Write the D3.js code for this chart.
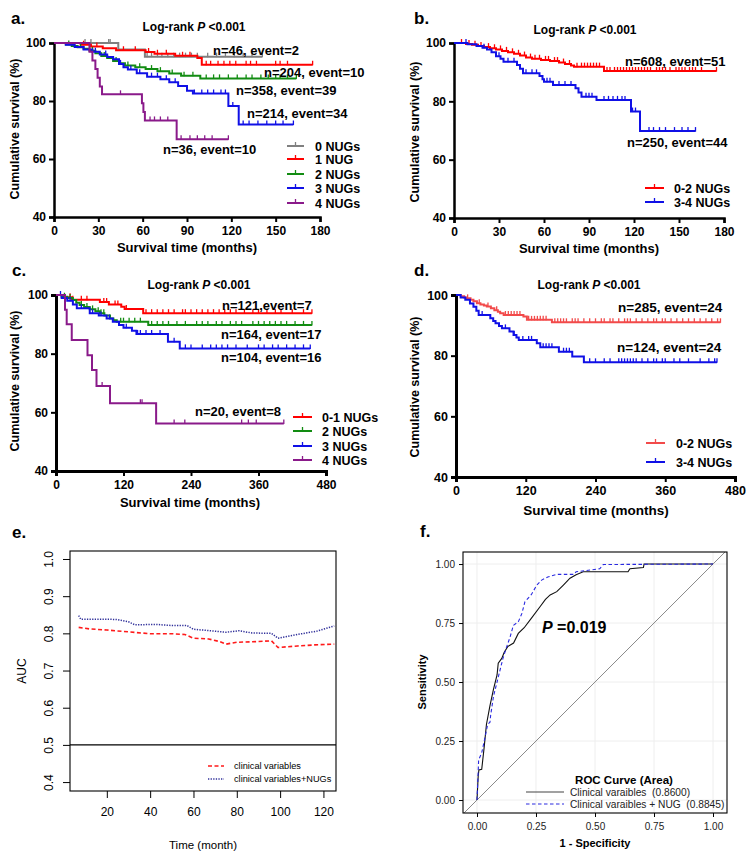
<!DOCTYPE html>
<html><head><meta charset="utf-8">
<script src="https://cdn.jsdelivr.net/npm/d3@7"></script>
<style>body{margin:0;background:#fff}</style>
</head><body>
<svg id="chart" width="754" height="863"></svg>
<script>
// ---------------- DATA ----------------
// Kaplan-Meier step curves: [time (months), survival (%)]
const kmYTicks = [40, 60, 80, 100];
const ticksAB = [0, 30, 60, 90, 120, 150, 180];
const ticksCD = [0, 120, 240, 360, 480];

// Panel a
const aGray = [[0,100],[43.5,97.8],[61.5,95.3],[141,95.3]];
const aRed = [[0,100],[18,99.4],[25,98.8],[33,98.2],[42,97.5],[62,96.9],[68,96.3],[82,95.6],[97,94.8],[100,92.5],[175,92.5]];
const aGreen = [[0,100],[8,99.5],[12,99.0],[16,98.5],[20,98.0],[24,97.3],[28,96.5],[32,95.5],[36,94.8],[40,93.8],[44,93.0],[48,92.2],[55,91.6],[62,91.0],[70,90.3],[78,89.5],[86,88.7],[99,87.8],[164,87.8]];
const aBlue = [[0,100],[8,99.4],[14,98.6],[20,97.8],[26,97.0],[31,96.0],[36,95.2],[40,94.4],[44,92.8],[47,91.6],[50,90.9],[56,89.6],[63,88.4],[72,87.5],[78,86.5],[84,85.2],[90,83.5],[94,82.6],[118,78.3],[125,71.9],[162,71.9]];
const aPurple = [[0,100],[24,97],[26,94],[28,91],[29.5,88],[31,85],[32.5,82.3],[59.5,79.2],[60.5,76.2],[61.5,73.3],[83,66.8],[118,66.8]];
const aGrayC = [21,25,37,38,63,66,70,73,77,81,85,89,93,97,104,110,116,122,128,134,141];
const aRedC = [20,29,47,55,64,70,76,87,92,103,106,111,115,119,123,130,133,137,150,153,158,175];
const aGreenC = [10,18,26,34,42,50,58,66,72,80,88,94,103,108,112,118,124,130,134,140,145,150,153,158,164];
const aBlueC = [28,35,45,52,58,66,70,76,82,95,100,104,108,113,116,121,128,132,138,144,150,155,162];
const aPurpleC = [45,65,68,72,77,86,92,97,102,107,118];

// Panel b
const bRed = [[0,100],[8,99.7],[12,99.4],[16,99.0],[20,98.6],[24,98.2],[28,97.8],[32,97.3],[36,96.8],[40,96.3],[44,95.7],[48,95.0],[52,94.6],[58,94.2],[64,93.8],[70,93.3],[74,92.8],[78,92.3],[80,91.9],[98,91.9],[100,90.4],[175,90.4]];
const bBlue = [[0,100],[9,99.6],[15,99.0],[19,98.4],[22,97.8],[25,96.8],[28,95.5],[31,94.6],[33,93.6],[42,92.5],[44,91.2],[46,89.6],[57,88.7],[59,87.6],[60,86.7],[66,85.6],[81,84.5],[83,83.0],[85,81.6],[95,80.5],[117,80.5],[118,76.5],[124,69.8],[161,69.8]];
const bRedC = [5,10,14,18,23,27,31,35,39,43,47,51,54,57,61,63,67,69,73,77,82,85,87,89,91,93,95,97,102,104,107,109,111,113,115,117,119,121,123,125,127,129,131,135,137,139,141,144,148,150,152,154,157,159,161,165,175];
const bBlueC = [8,20,30,36,40,48,52,55,62,64,70,74,78,88,90,92,100,103,106,109,112,114,119,121,130,133,137,141,147,152,156,161];

// Panel c
const cRed = [[0,100],[16,99.2],[28,98.4],[78,97.6],[94,96.8],[116,96.0],[122,95.2],[155,93.8],[455,93.8]];
const cGreen = [[0,100],[10,99.4],[20,99.0],[30,98.3],[36,97.4],[42,96.6],[50,95.9],[60,95.1],[70,94.5],[78,93.8],[86,93.0],[96,92.0],[102,91.4],[108,90.9],[164,89.8],[455,89.8]];
const cBlue = [[0,100],[10,99.0],[20,98.0],[30,96.8],[37,95.5],[60,93.8],[76,93.0],[90,92.0],[101,90.9],[112,89.8],[120,88.8],[135,87.8],[143,86.7],[199,84.1],[220,81.8],[452,81.8]];
const cPurple = [[0,100],[16,95.0],[19,90.0],[28,84.7],[56,79.5],[64,74.4],[72,69.0],[96,63.1],[178,56.2],[405,56.2]];
const cRedC = [25,30,45,55,85,90,105,110,125,160,170,180,190,200,210,225,230,240,250,260,270,280,290,300,310,320,335,350,360,375,390,400,420,440,455];
const cGreenC = [15,25,45,55,65,75,80,85,115,120,130,140,150,170,180,190,200,215,230,250,260,270,285,295,310,320,330,350,360,370,380,390,400,410,425,440,455];
const cBlueC = [8,25,45,65,80,95,125,145,150,160,170,185,210,230,240,260,275,285,295,305,320,340,360,370,385,395,410,425,440,452];
const cPurpleC = [82,150,153,210,229,330,342,356,405];

// Panel d
const dRed = [[0,100],[8,99.6],[14,99.2],[19,98.9],[25,98.4],[30,97.9],[36,97.3],[42,96.9],[48,96.5],[53,96.2],[60,95.6],[66,95.0],[72,94.5],[76,94.0],[82,93.4],[116,92.9],[122,91.8],[157,91.8],[165,91.0],[455,91.0]];
const dBlue = [[0,100],[8,99.2],[16,98.4],[24,97.2],[30,96.1],[35,94.8],[39,93.4],[59,92.3],[64,91.4],[68,90.7],[74,89.8],[79,89.0],[92,88.0],[99,86.8],[104,86.0],[108,85.2],[139,84.1],[145,82.8],[177,81.3],[200,79.7],[220,77.8],[449,77.8]];
const dRedC = [20,40,55,70,85,90,95,100,105,110,125,130,135,140,145,150,155,170,175,180,185,190,200,205,210,220,230,240,250,255,265,270,280,290,295,300,310,320,330,340,345,355,360,370,380,390,400,410,420,430,440,450,455];
const dBlueC = [45,85,100,115,125,130,150,155,160,165,185,190,195,230,240,255,265,280,285,290,295,300,305,310,320,330,340,345,355,360,375,385,400,420,435,445,449];

// Panel e: time-dependent AUC [month, AUC]
const eXTicks = [20, 40, 60, 80, 100, 120];
const eYTicks = [0.4, 0.5, 0.6, 0.7, 0.8, 0.9, 1.0];
const eClinical = [[7,0.816],[12,0.812],[20,0.809],[30,0.804],[40,0.799],[50,0.799],[56,0.797],[60,0.787],[67,0.785],[72,0.778],[75,0.771],[80,0.776],[90,0.778],[96,0.780],[99,0.762],[108,0.766],[116,0.769],[125,0.771]];
const eClinicalNUG = [[7,0.848],[8,0.838],[21,0.838],[25,0.837],[30,0.831],[33,0.823],[43,0.824],[50,0.821],[57,0.821],[60,0.811],[68,0.807],[75,0.803],[81,0.807],[87,0.801],[96,0.800],[99,0.787],[108,0.797],[117,0.806],[125,0.820]];

// Panel f: ROC curves [1-specificity, sensitivity]
const fTicks = [0, 0.25, 0.5, 0.75, 1.0];
const rocClinical = [[0,0],[0.005,0.10],[0.008,0.127],[0.02,0.13],[0.03,0.22],[0.04,0.32],[0.055,0.40],[0.07,0.47],[0.085,0.53],[0.09,0.58],[0.105,0.60],[0.115,0.625],[0.13,0.65],[0.155,0.665],[0.175,0.706],[0.2,0.73],[0.23,0.77],[0.267,0.819],[0.29,0.85],[0.31,0.869],[0.338,0.883],[0.365,0.91],[0.394,0.94],[0.42,0.955],[0.45,0.967],[0.64,0.967],[0.648,0.98],[0.705,0.985],[0.708,1.0],[1.0,1.0]];
const rocClinicalNUG = [[0,0],[0.005,0.12],[0.007,0.17],[0.02,0.2],[0.035,0.27],[0.045,0.32],[0.055,0.33],[0.058,0.36],[0.07,0.44],[0.085,0.5],[0.095,0.54],[0.11,0.6],[0.126,0.65],[0.14,0.69],[0.154,0.74],[0.175,0.755],[0.19,0.79],[0.203,0.84],[0.23,0.87],[0.253,0.91],[0.274,0.932],[0.3,0.945],[0.338,0.956],[0.41,0.956],[0.42,0.967],[0.52,0.98],[0.535,0.998],[1.0,1.0]];

// ---------------- DRAWING ----------------
const FONT = "'Liberation Sans', Arial, Helvetica, sans-serif";
const svg = d3.select('#chart').style('font-family', FONT);
svg.append('rect').attr('width', 754).attr('height', 863).attr('fill', '#fff');

function survAt(series, t) {
  let s = series[0][1];
  for (const p of series) if (p[0] <= t) s = p[1];
  return s;
}

function logRankTitle(g, x, y) {
  const t = g.append('text').attr('x', x).attr('y', y).attr('text-anchor', 'middle')
    .attr('font-size', 12).attr('font-weight', 'bold');
  t.append('tspan').text('Log-rank ');
  t.append('tspan').attr('font-style', 'italic').text('P');
  t.append('tspan').text(' <0.001');
}

function drawKM(o) {
  const g = svg.append('g');
  const x = d3.scaleLinear().domain([0, o.xmax]).range([o.x0, o.x1]);
  const y = d3.scaleLinear().domain([40, 100]).range([o.y0, o.y1]);

  g.append('text').attr('x', o.lab[0]).attr('y', o.lab[1]).attr('font-size', 17)
    .attr('font-weight', 'bold').text(o.label);
  logRankTitle(g, o.title[0], o.title[1]);

  const ax = g.append('g').attr('transform', `translate(0,${o.y0})`)
    .call(d3.axisBottom(x).tickValues(o.xticks).tickSizeOuter(0).tickSize(5).tickPadding(4));
  const ay = g.append('g').attr('transform', `translate(${o.x0},0)`)
    .call(d3.axisLeft(y).tickValues(kmYTicks).tickSizeOuter(0).tickSize(5).tickPadding(3));
  [ax, ay].forEach(a => {
    a.select('.domain').attr('stroke-width', o.axw || 2.5).attr('stroke', '#000');
    a.selectAll('.tick line').attr('stroke-width', 2).attr('stroke', '#000');
    a.selectAll('.tick text').attr('font-size', o.tickSize || 12).attr('font-weight', 'bold')
      .attr('font-family', FONT).attr('fill', '#000');
  });
  g.append('text').attr('x', o.xlab[0]).attr('y', o.xlab[1]).attr('text-anchor', 'middle')
    .attr('font-size', o.xlabSize || 13).attr('font-weight', 'bold').text('Survival time (months)');
  g.append('text').attr('transform', `translate(${o.ylab[0]},${o.ylab[1]}) rotate(-90)`)
    .attr('text-anchor', 'middle').attr('dy', '0.35em')
    .attr('font-size', 12.5).attr('font-weight', 'bold').text('Cumulative survival (%)');

  const line = d3.line().x(d => x(d[0])).y(d => y(d[1])).curve(d3.curveStepAfter);
  o.series.forEach(s => {
    g.append('path').attr('d', line(s.data)).attr('fill', 'none')
      .attr('stroke', s.color).attr('stroke-width', 2);
    g.append('g').selectAll('line').data(s.cens).join('line')
      .attr('x1', t => x(t)).attr('x2', t => x(t))
      .attr('y1', t => y(survAt(s.data, t)) - 4)
      .attr('y2', t => y(survAt(s.data, t)) + 0.5)
      .attr('stroke', s.color).attr('stroke-width', 1.3);
  });

  // legend
  const L = o.legend;
  o.series.forEach((s, i) => {
    const ry = L.rows[i];
    g.append('line').attr('x1', L.x0).attr('x2', L.x1).attr('y1', ry).attr('y2', ry)
      .attr('stroke', s.color).attr('stroke-width', 2);
    const mx = (L.x0 + L.x1) / 2;
    g.append('line').attr('x1', mx).attr('x2', mx).attr('y1', ry - 4).attr('y2', ry)
      .attr('stroke', s.color).attr('stroke-width', 1.3);
    g.append('text').attr('x', L.tx).attr('y', ry + 4.5).attr('font-size', 12.5)
      .attr('font-weight', 'bold').text(s.name);
  });

  o.notes.forEach(n => {
    g.append('text').attr('x', n[1]).attr('y', n[2] + 4.5).attr('font-size', o.noteSize || 13)
      .attr('font-weight', 'bold').text(n[0]);
  });
}

const C = { gray: '#808080', red: '#ff0000', green: '#128c12', blue: '#1010e6', purple: '#8a1a8a', lred: '#f24a4a' };

drawKM({
  label: 'a.', lab: [11, 24], x0: 54, x1: 320, y0: 217, y1: 43, xmax: 180, xticks: ticksAB,
  title: [194, 31], xlab: [187, 252], ylab: [15, 129],
  series: [
    { data: aGray, cens: aGrayC, color: C.gray, name: '0 NUGs' },
    { data: aRed, cens: aRedC, color: C.red, name: '1 NUG' },
    { data: aGreen, cens: aGreenC, color: C.green, name: '2 NUGs' },
    { data: aBlue, cens: aBlueC, color: C.blue, name: '3 NUGs' },
    { data: aPurple, cens: aPurpleC, color: C.purple, name: '4 NUGs' }
  ],
  legend: { x0: 287, x1: 304, tx: 315, rows: [146, 159, 174, 188, 203] },
  notes: [['n=46, event=2', 213, 50], ['n=204, event=10', 264, 72], ['n=358, event=39', 236, 90],
          ['n=214, event=34', 247, 113], ['n=36, event=10', 163, 149]]
});

drawKM({
  label: 'b.', lab: [414, 24], x0: 454, x1: 724, y0: 218, y1: 43, xmax: 180, xticks: ticksAB,
  title: [585, 34], xlab: [589, 253], ylab: [415, 132],
  series: [
    { data: bRed, cens: bRedC, color: C.red, name: '0-2 NUGs' },
    { data: bBlue, cens: bBlueC, color: C.blue, name: '3-4 NUGs' }
  ],
  legend: { x0: 645, x1: 664, tx: 674, rows: [188, 202] },
  notes: [['n=608, event=51', 625, 61], ['n=250, event=44', 627, 142]]
});

drawKM({
  label: 'c.', lab: [12, 276], x0: 56, x1: 326, y0: 471, y1: 295, xmax: 480, xticks: ticksCD, axw: 3,
  title: [199, 289], xlab: [190, 507], ylab: [15, 381],
  series: [
    { data: cRed, cens: cRedC, color: C.red, name: '0-1 NUGs' },
    { data: cGreen, cens: cGreenC, color: C.green, name: '2 NUGs' },
    { data: cBlue, cens: cBlueC, color: C.blue, name: '3 NUGs' },
    { data: cPurple, cens: cPurpleC, color: C.purple, name: '4 NUGs' }
  ],
  legend: { x0: 293, x1: 312, tx: 322, rows: [417, 431, 446, 460] },
  notes: [['n=121,event=7', 222, 305], ['n=164, event=17', 221, 334], ['n=104, event=16', 221, 357],
          ['n=20, event=8', 195, 411]]
});

drawKM({
  label: 'd.', lab: [414, 276], x0: 456, x1: 735, y0: 477, y1: 295, xmax: 480, xticks: ticksCD, axw: 3,
  title: [589, 289], xlab: [596, 515], xlabSize: 13.5, ylab: [415, 387], noteSize: 13.5, tickSize: 12.5,
  series: [
    { data: dRed, cens: dRedC, color: C.lred, name: '0-2 NUGs' },
    { data: dBlue, cens: dBlueC, color: C.blue, name: '3-4 NUGs' }
  ],
  legend: { x0: 646, x1: 665, tx: 676, rows: [443, 462] },
  notes: [['n=285, event=24', 618, 307], ['n=124, event=24', 617, 347]]
});

// ---------- Panel e ----------
(function () {
  const g = svg.append('g');
  const x = d3.scaleLinear().domain([3, 125.8]).range([70, 336]);
  const y = d3.scaleLinear().domain([0.376, 1.0215]).range([791, 551]);
  g.append('text').attr('x', 12).attr('y', 538).attr('font-size', 17).attr('font-weight', 'bold').text('e.');

  const ax = g.append('g').attr('transform', 'translate(0,791)')
    .call(d3.axisBottom(x).tickValues(eXTicks).tickSizeOuter(0).tickSize(7).tickPadding(9));
  ax.select('.domain').remove();
  ax.selectAll('.tick text').attr('font-size', 12).attr('font-family', FONT).attr('fill', '#000');
  ax.selectAll('.tick line').attr('stroke', '#000');

  const ay = g.append('g').attr('transform', 'translate(70,0)')
    .call(d3.axisLeft(y).tickValues(eYTicks).tickFormat(d3.format('.1f')).tickSizeOuter(0).tickSize(7));
  ay.select('.domain').remove();
  ay.selectAll('.tick line').attr('stroke', '#000');
  ay.selectAll('.tick text').attr('font-size', 12).attr('font-family', FONT).attr('fill', '#000')
    .attr('x', 0).attr('dy', null).attr('y', -17.5).attr('text-anchor', 'middle')
    .attr('transform', 'rotate(-90)');

  g.append('rect').attr('x', 70).attr('y', 551).attr('width', 266).attr('height', 240)
    .attr('fill', 'none').attr('stroke', '#000').attr('stroke-width', 1.1);
  g.append('line').attr('x1', 70).attr('x2', 336).attr('y1', y(0.5)).attr('y2', y(0.5))
    .attr('stroke', '#000').attr('stroke-width', 1.2);

  const line = d3.line().x(d => x(d[0])).y(d => y(d[1]));
  g.append('path').attr('d', line(eClinical)).attr('fill', 'none').attr('stroke', '#ff1a1a')
    .attr('stroke-width', 1.6).attr('stroke-dasharray', '4,2.5');
  g.append('path').attr('d', line(eClinicalNUG)).attr('fill', 'none').attr('stroke', '#30309a')
    .attr('stroke-width', 1.5).attr('stroke-dasharray', '1.3,1.3');

  g.append('text').attr('x', 203).attr('y', 849).attr('text-anchor', 'middle').attr('font-size', 11.5).text('Time (month)');
  g.append('text').attr('transform', 'translate(22,671) rotate(-90)').attr('text-anchor', 'middle')
    .attr('dy', '0.35em').attr('font-size', 12).text('AUC');

  g.append('line').attr('x1', 208).attr('x2', 224).attr('y1', 766).attr('y2', 766)
    .attr('stroke', '#ff1a1a').attr('stroke-width', 1.6).attr('stroke-dasharray', '4,2.5');
  g.append('line').attr('x1', 208).attr('x2', 224).attr('y1', 779).attr('y2', 779)
    .attr('stroke', '#30309a').attr('stroke-width', 1.5).attr('stroke-dasharray', '1.3,1.3');
  g.append('text').attr('x', 234).attr('y', 769).attr('font-size', 9.2).text('clinical variables');
  g.append('text').attr('x', 234).attr('y', 782).attr('font-size', 9.2).text('clinical variables+NUGs');
})();

// ---------- Panel f ----------
(function () {
  const g = svg.append('g');
  const x = d3.scaleLinear().domain([-0.0593, 1.0593]).range([463, 727]);
  const y = d3.scaleLinear().domain([-0.055, 1.051]).range([813, 552]);
  g.append('text').attr('x', 420).attr('y', 537).attr('font-size', 17).attr('font-weight', 'bold').text('f.');

  // grid
  g.append('g').selectAll('line').data(fTicks).join('line')
    .attr('x1', d => x(d)).attr('x2', d => x(d)).attr('y1', 552).attr('y2', 813)
    .attr('stroke', '#eeeeee').attr('stroke-width', 1);
  g.append('g').selectAll('line').data(fTicks).join('line')
    .attr('y1', d => y(d)).attr('y2', d => y(d)).attr('x1', 463).attr('x2', 727)
    .attr('stroke', '#eeeeee').attr('stroke-width', 1);

  const ax = g.append('g').attr('transform', 'translate(0,813)')
    .call(d3.axisBottom(x).tickValues(fTicks).tickFormat(d3.format('.2f')).tickSizeOuter(0).tickSize(4).tickPadding(6));
  ax.select('.domain').remove();
  const ay = g.append('g').attr('transform', 'translate(463,0)')
    .call(d3.axisLeft(y).tickValues(fTicks).tickFormat(d3.format('.2f')).tickSizeOuter(0).tickSize(4).tickPadding(4));
  ay.select('.domain').remove();
  [ax, ay].forEach(a => {
    a.selectAll('.tick line').attr('stroke', '#000');
    a.selectAll('.tick text').attr('font-size', 10).attr('font-family', FONT).attr('fill', '#222');
  });

  // diagonal reference
  g.append('line').attr('x1', x(-0.055)).attr('y1', y(-0.055)).attr('x2', x(1.051)).attr('y2', y(1.051))
    .attr('stroke', '#8a8a8a').attr('stroke-width', 1);

  const line = d3.line().x(d => x(d[0])).y(d => y(d[1]));
  g.append('path').attr('d', line(rocClinical)).attr('fill', 'none').attr('stroke', '#111')
    .attr('stroke-width', 1.1);
  g.append('path').attr('d', line(rocClinicalNUG)).attr('fill', 'none').attr('stroke', '#2a2ae0')
    .attr('stroke-width', 1.1).attr('stroke-dasharray', '3.5,2.5');

  g.append('rect').attr('x', 463).attr('y', 552).attr('width', 264).attr('height', 261)
    .attr('fill', 'none').attr('stroke', '#000').attr('stroke-width', 1.1);

  const pt = g.append('text').attr('x', 542).attr('y', 633).attr('font-size', 16).attr('font-weight', 'bold');
  pt.append('tspan').attr('font-style', 'italic').text('P');
  pt.append('tspan').text(' =0.019');

  g.append('text').attr('x', 595).attr('y', 847).attr('text-anchor', 'middle').attr('font-size', 11)
    .attr('font-weight', 'bold').text('1 - Specificity');
  g.append('text').attr('transform', 'translate(422,682) rotate(-90)').attr('text-anchor', 'middle')
    .attr('dy', '0.35em').attr('font-size', 11).attr('font-weight', 'bold').text('Sensitivity');

  g.append('text').attr('x', 624).attr('y', 784).attr('text-anchor', 'middle').attr('font-size', 11.5)
    .attr('font-weight', 'bold').text('ROC Curve (Area)');
  g.append('line').attr('x1', 526).attr('x2', 564).attr('y1', 792).attr('y2', 792)
    .attr('stroke', '#444').attr('stroke-width', 1.1);
  g.append('line').attr('x1', 526).attr('x2', 564).attr('y1', 804).attr('y2', 804)
    .attr('stroke', '#2a2ae0').attr('stroke-width', 1.1).attr('stroke-dasharray', '3.5,2.5');
  g.append('text').attr('x', 570).attr('y', 796).attr('font-size', 10.2).attr('fill', '#222')
    .attr('xml:space', 'preserve').text('Clinical varaibles  (0.8600)');
  g.append('text').attr('x', 570).attr('y', 808).attr('font-size', 10.2).attr('fill', '#222')
    .attr('xml:space', 'preserve').text('Clinical varaibles + NUG  (0.8845)');
})();
</script>
</body></html>
